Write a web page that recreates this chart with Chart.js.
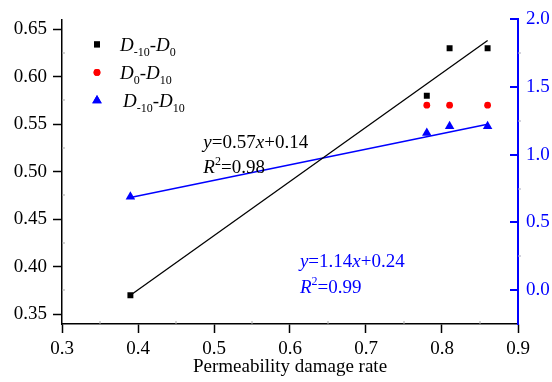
<!DOCTYPE html>
<html>
<head>
<meta charset="utf-8">
<script src="https://cdn.jsdelivr.net/npm/chart.js@4/dist/chart.umd.min.js"></script>
<style>
  body { margin: 0; background: #fff; }
  #wrap { width: 552px; height: 382px; }
</style>
</head>
<body>
<div id="wrap"><canvas id="damageChart" width="552" height="382"></canvas></div>
<script>
// damage rate samples
const damageRate = [0.39, 0.78, 0.81, 0.86];
const dM10to0 = [0.37, 0.58, 0.63, 0.63];        // D-10 - D0 (left axis)
const damageRateD0 = [0.78, 0.81, 0.86];
const d0to10 = [0.57, 0.57, 0.57];               // D0 - D10 (left axis)
const dM10to10 = [0.69, 1.16, 1.21, 1.21];       // D-10 - D10 (right axis)

// linear fits, end points
const fitX = [0.39, 0.86];
const fitBlack = [0.37, 0.638];
const fitBlue = [0.685, 1.225];

const xTicks = [0.3, 0.4, 0.5, 0.6, 0.7, 0.8, 0.9];
const leftTicks = [0.35, 0.40, 0.45, 0.50, 0.55, 0.60, 0.65];
const rightTicks = [0.0, 0.5, 1.0, 1.5, 2.0];
const xMinor = [0.35, 0.45, 0.55, 0.65, 0.75, 0.85];
const leftMinor = [0.375, 0.425, 0.475, 0.525, 0.575, 0.625];
const rightMinor = [0.25, 0.75, 1.25, 1.75];

const FONT = '"Liberation Serif", "Times New Roman", serif';
const BLUE = '#0000ff';

function pts(xs, ys) {
    return xs.map((x, i) => ({x: x, y: ys[i]}));
}

// draws a line of text made of italic / normal / sub / sup runs
function drawRuns(ctx, x, y, runs, color) {
    ctx.save();
    ctx.fillStyle = color;
    ctx.textAlign = 'left';
    ctx.textBaseline = 'alphabetic';
    runs.forEach(([t, s]) => {
        let dy = 0;
        let font = '19px ' + FONT;
        if (s == 'i') font = 'italic 19px ' + FONT;
        if (s == 'sub') { font = '12px ' + FONT; dy = 5; }
        if (s == 'sup') { font = '12px ' + FONT; dy = -8; }
        ctx.font = font;
        ctx.fillText(t, x, y + dy);
        x += ctx.measureText(t).width;
    });
    ctx.restore();
}

const decorations = {
    id: 'decorations',
    afterDraw(chart) {
        const ctx = chart.ctx;
        const xs = chart.scales.x, yl = chart.scales.y, yr = chart.scales.y1;
        const area = chart.chartArea;

        // inward major ticks on the right axis
        ctx.save();
        ctx.setLineDash([]);
        ctx.globalAlpha = 1;
        ctx.fillStyle = BLUE;
        rightTicks.forEach(v => {
            const py = Math.round(yr.getPixelForValue(v));
            ctx.fillRect(area.right - 8, py - 1, 8, 2);
        });

        // minor ticks, short and faint
        ctx.fillStyle = '#aaa';
        xMinor.forEach(v => {
            const px = Math.round(xs.getPixelForValue(v));
            ctx.fillRect(px - 0.5, area.bottom - 3, 1, 3);
        });
        leftMinor.forEach(v => {
            const py = Math.round(yl.getPixelForValue(v));
            ctx.fillRect(area.left, py - 0.5, 3, 1);
        });
        ctx.fillStyle = '#aab';
        rightMinor.forEach(v => {
            const py = Math.round(yr.getPixelForValue(v));
            ctx.fillRect(area.right, py - 0.5, 3, 1);
        });
        ctx.restore();

        // legend
        const lx = area.left + 35;
        const rows = [
            {y: area.top + 25, style: 'rect', r: 4.2, color: '#000',
             runs: [['D', 'i'], ['-10', 'sub'], ['-', 'n'], ['D', 'i'], ['0', 'sub']], tx: area.left + 58},
            {y: area.top + 53, style: 'circle', r: 3.4, color: '#ff0000',
             runs: [['D', 'i'], ['0', 'sub'], ['-', 'n'], ['D', 'i'], ['10', 'sub']], tx: area.left + 58},
            {y: area.top + 81, style: 'triangle', r: 5.5, color: BLUE,
             runs: [['D', 'i'], ['-10', 'sub'], ['-', 'n'], ['D', 'i'], ['10', 'sub']], tx: area.left + 61}
        ];
        rows.forEach(row => {
            ctx.save();
            ctx.fillStyle = row.color;
            ctx.strokeStyle = row.color;
            Chart.helpers.drawPoint(ctx, {pointStyle: row.style, radius: row.r, borderWidth: 0}, lx, row.y);
            ctx.fill();
            ctx.restore();
            drawRuns(ctx, row.tx, row.y + 7, row.runs, '#000');
        });

        // fit equations
        let ex = xs.getPixelForValue(0.486), ey = yl.getPixelForValue(0.53);
        drawRuns(ctx, ex, ey + 5, [['y', 'i'], ['=0.57', 'n'], ['x', 'i'], ['+0.14', 'n']], '#000');
        drawRuns(ctx, ex, ey + 30, [['R', 'i'], ['2', 'sup'], ['=0.98', 'n']], '#000');
        ex = xs.getPixelForValue(0.613); ey = yr.getPixelForValue(0.215);
        drawRuns(ctx, ex, ey + 6, [['y', 'i'], ['=1.14', 'n'], ['x', 'i'], ['+0.24', 'n']], BLUE);
        drawRuns(ctx, ex, ey + 32, [['R', 'i'], ['2', 'sup'], ['=0.99', 'n']], BLUE);
    }
};

// outward major ticks drawn by the axes themselves
const outTicks = {
    display: true,
    drawOnChartArea: false,
    drawTicks: true,
    tickLength: 9,
    tickWidth: 1.5,
    tickColor: '#000',
    color: '#000'
};

const ctx = document.getElementById('damageChart').getContext('2d');
const chart = new Chart(ctx, {
    type: 'scatter',
    data: {
        datasets: [
            {
                label: 'D-10-D0',
                data: pts(damageRate, dM10to0),
                pointStyle: 'rect',
                pointRadius: 4.2,
                backgroundColor: '#000',
                borderWidth: 0,
                yAxisID: 'y'
            },
            {
                label: 'D0-D10',
                data: pts(damageRateD0, d0to10),
                pointStyle: 'circle',
                pointRadius: 3.4,
                backgroundColor: '#ff0000',
                borderWidth: 0,
                yAxisID: 'y'
            },
            {
                label: 'D-10-D10',
                data: pts(damageRate, dM10to10),
                pointStyle: 'triangle',
                pointRadius: 5.5,
                backgroundColor: BLUE,
                borderWidth: 0,
                yAxisID: 'y1'
            },
            {
                label: 'fit 1',
                data: pts(fitX, fitBlack),
                showLine: true,
                pointRadius: 0,
                borderColor: '#000',
                borderWidth: 1.3,
                yAxisID: 'y'
            },
            {
                label: 'fit 2',
                data: pts(fitX, fitBlue),
                showLine: true,
                pointRadius: 0,
                borderColor: BLUE,
                borderWidth: 1.5,
                yAxisID: 'y1'
            }
        ]
    },
    options: {
        responsive: false,
        animation: false,
        layout: { padding: { top: 14, left: 0, right: 0, bottom: 0 } },
        plugins: {
            legend: { display: false },
            tooltip: { enabled: false },
            title: { display: false }
        },
        scales: {
            x: {
                type: 'linear',
                min: 0.3,
                max: 0.9,
                grid: outTicks,
                border: { display: true, color: '#000', width: 1.5 },
                afterBuildTicks: s => { s.ticks = xTicks.map(v => ({value: v})); },
                afterFit: s => { s.height = 58; },
                ticks: {
                    padding: 5,
                    color: '#000',
                    font: { family: FONT, size: 19 },
                    maxRotation: 0,
                    callback: v => v.toFixed(1)
                },
                title: {
                    display: true,
                    text: 'Permeability damage rate',
                    color: '#000',
                    font: { family: FONT, size: 19 },
                    padding: { top: 0, bottom: 4 }
                }
            },
            y: {
                type: 'linear',
                position: 'left',
                min: 0.3397,
                max: 0.6603,
                grid: outTicks,
                border: { display: true, color: '#000', width: 1.5 },
                afterBuildTicks: s => { s.ticks = leftTicks.map(v => ({value: v})); },
                afterFit: s => { s.width = 62; },
                ticks: {
                    padding: 6,
                    color: '#000',
                    font: { family: FONT, size: 19 },
                    callback: v => v.toFixed(2)
                }
            },
            y1: {
                type: 'linear',
                position: 'right',
                min: -0.25,
                max: 2.0,
                grid: { display: false, drawTicks: false },
                border: { display: true, color: BLUE, width: 2 },
                afterBuildTicks: s => { s.ticks = rightTicks.map(v => ({value: v})); },
                afterFit: s => { s.width = 34; },
                ticks: {
                    padding: 8,
                    color: BLUE,
                    font: { family: FONT, size: 19 },
                    callback: v => v.toFixed(1)
                }
            }
        }
    },
    plugins: [decorations]
});
</script>
</body>
</html>
